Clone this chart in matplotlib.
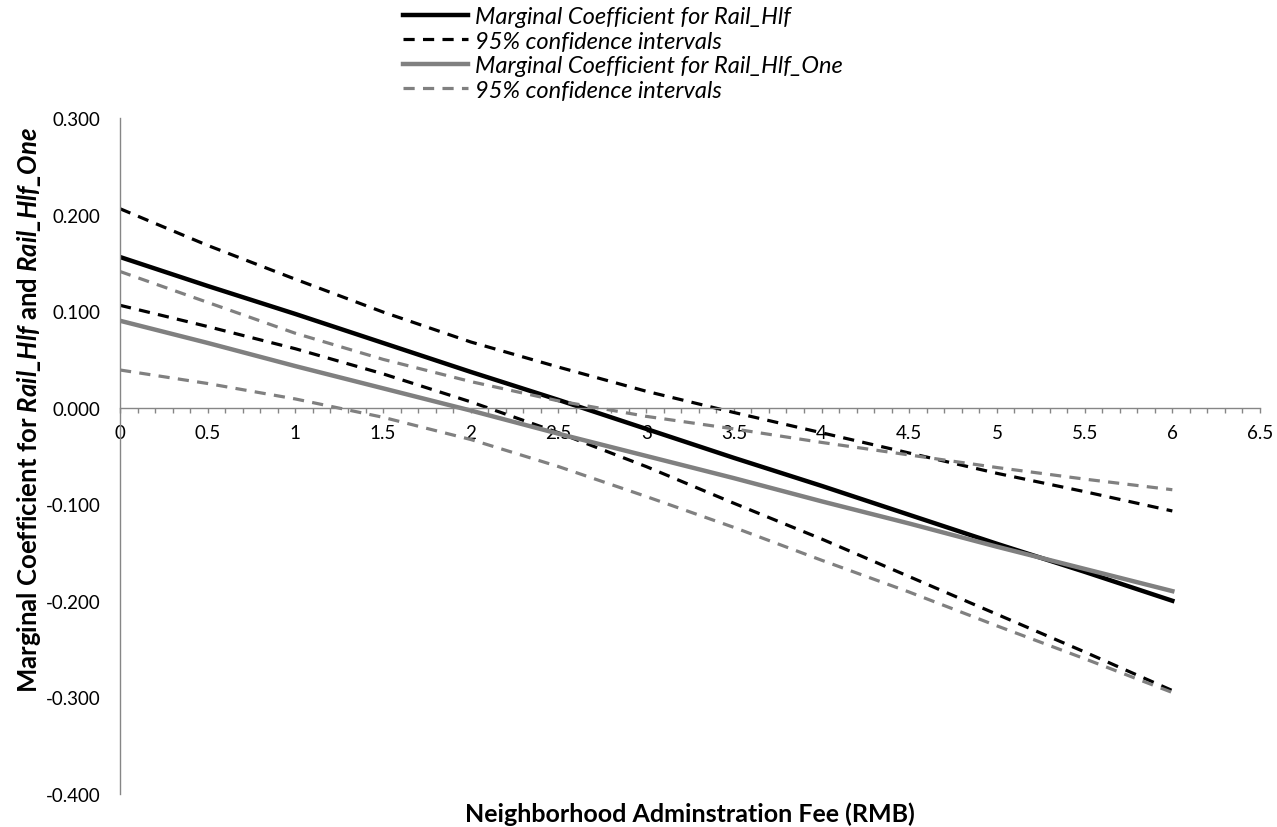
import matplotlib.pyplot as plt
from matplotlib.ticker import MultipleLocator, FormatStrFormatter, FuncFormatter

# Neighborhood administration fee (RMB)
fee = [0, 0.5, 1, 1.5, 2, 2.5, 3, 3.5, 4, 4.5, 5, 5.5, 6]

# Marginal coefficient for Rail_Hlf and its 95% band
hlf_coef = [0.156, 0.126, 0.097, 0.067, 0.037, 0.008, -0.022,
            -0.052, -0.081, -0.111, -0.141, -0.170, -0.200]
hlf_upper = [0.206, 0.168, 0.133, 0.099, 0.068, 0.042, 0.017,
             -0.005, -0.026, -0.047, -0.068, -0.087, -0.107]
hlf_lower = [0.106, 0.084, 0.061, 0.035, 0.006, -0.026, -0.061,
             -0.099, -0.136, -0.175, -0.214, -0.253, -0.293]

# Marginal coefficient for Rail_Hlf_One and its 95% band
one_coef = [0.090, 0.067, 0.043, 0.020, -0.003, -0.027, -0.050,
            -0.073, -0.097, -0.120, -0.144, -0.167, -0.190]
one_upper = [0.141, 0.109, 0.077, 0.050, 0.027, 0.007, -0.009,
             -0.022, -0.036, -0.049, -0.062, -0.074, -0.085]
one_lower = [0.039, 0.025, 0.009, -0.010, -0.033, -0.061, -0.092,
             -0.124, -0.158, -0.191, -0.226, -0.260, -0.295]

plt.rcParams["font.family"] = ["Lato", "DejaVu Sans"]
plt.rcParams["mathtext.fontset"] = "custom"
plt.rcParams["mathtext.bfit"] = "Lato:italic:bold"

GREY = "#808080"
AXIS = "#868686"

fig = plt.figure(figsize=(12.77, 8.28), dpi=100)
ax = fig.add_axes([0.094, 0.040, 0.8927, 0.8163])

dash = (3.5, 2.6)
ax.plot(fee, hlf_coef, color="black", lw=3.2, label="Marginal Coefficient for Rail_Hlf")
ax.plot(fee, hlf_upper, color="black", lw=2.3, dashes=dash, label="95% confidence intervals")
ax.plot(fee, hlf_lower, color="black", lw=2.3, dashes=dash, label="_nolegend_")
ax.plot(fee, one_coef, color=GREY, lw=3.2, label="Marginal Coefficient for Rail_Hlf_One")
ax.plot(fee, one_upper, color=GREY, lw=2.3, dashes=dash, label="95% confidence intervals")
ax.plot(fee, one_lower, color=GREY, lw=2.3, dashes=dash, label="_nolegend_")

ax.set_xlim(0, 6.5)
ax.set_ylim(-0.4, 0.3)

for side in ("top", "right"):
    ax.spines[side].set_visible(False)
ax.spines["bottom"].set_position(("data", 0))
for side in ("bottom", "left"):
    ax.spines[side].set_color(AXIS)
    ax.spines[side].set_linewidth(1.0)

ax.xaxis.set_major_locator(MultipleLocator(0.5))
ax.xaxis.set_minor_locator(MultipleLocator(0.1))
ax.xaxis.set_major_formatter(FuncFormatter(lambda v, p: f"{v:g}"))
ax.tick_params(axis="x", which="both", direction="out", length=3.5, width=1.0,
               color=AXIS, labelsize=13.5, pad=8)
ax.yaxis.set_major_locator(MultipleLocator(0.1))
ax.yaxis.set_major_formatter(FormatStrFormatter("%.3f"))
ax.tick_params(axis="y", length=0, labelsize=13.5, pad=14)

fig.text(690 / 1277, 1 - 814 / 828, "Neighborhood Adminstration Fee (RMB)",
         ha="center", va="center", fontsize=18, fontweight="bold")
fig.text(29 / 1277, 1 - 410 / 828,
         r"Marginal Coefficient for $\mathbfit{Rail\_Hlf}$ and $\mathbfit{Rail\_Hlf\_One}$",
         ha="center", va="center", rotation=90, fontsize=18.5, fontweight="bold")

leg = fig.legend(loc="upper left", bbox_to_anchor=(403 / 1277, 1 - 7 / 828),
                 frameon=False, fontsize=17, handlelength=2.75, handletextpad=0.3,
                 labelspacing=0.15, borderaxespad=0, borderpad=0)
for t in leg.get_texts():
    t.set_fontstyle("italic")

fig.savefig("out.png", dpi=100)
